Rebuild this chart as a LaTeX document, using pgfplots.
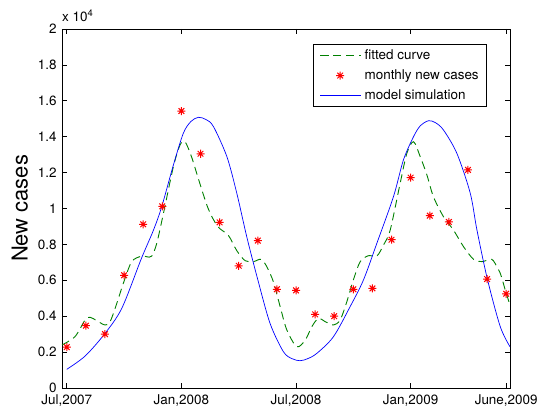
\documentclass[border=0pt]{standalone}
\usepackage{fontspec}
\setmainfont{TeX Gyre Heros}
\usepackage{pgfplots}
\pgfplotsset{compat=1.18}
\definecolor{mgreen}{rgb}{0,0.5,0}
\pgfdeclareplotmark{mstar}{%
  \pgfpathmoveto{\pgfqpoint{-\pgfplotmarksize}{0pt}}\pgfpathlineto{\pgfqpoint{\pgfplotmarksize}{0pt}}%
  \pgfpathmoveto{\pgfqpoint{0pt}{-\pgfplotmarksize}}\pgfpathlineto{\pgfqpoint{0pt}{\pgfplotmarksize}}%
  \pgfpathmoveto{\pgfqpoint{-0.707\pgfplotmarksize}{-0.707\pgfplotmarksize}}\pgfpathlineto{\pgfqpoint{0.707\pgfplotmarksize}{0.707\pgfplotmarksize}}%
  \pgfpathmoveto{\pgfqpoint{-0.707\pgfplotmarksize}{0.707\pgfplotmarksize}}\pgfpathlineto{\pgfqpoint{0.707\pgfplotmarksize}{-0.707\pgfplotmarksize}}%
  \pgfusepathqstroke}
\begin{document}
\begin{tikzpicture}
\begin{axis}[
  scale only axis,
  width=448bp, height=359bp,
  xmin=-0.25, xmax=23.2, ymin=0, ymax=2,
  xtick={0,6,12,18,23},
  xticklabels={{Jul,2007},{Jan,2008},{Jul,2008},{Jan,2009},{June,2009}},
  ytick={0,0.2,0.4,0.6,0.8,1,1.2,1.4,1.6,1.8,2},
  yticklabels={0,0.2,0.4,0.6,0.8,1,1.2,1.4,1.6,1.8,2},
  scaled y ticks=false,
  tick align=inside,
  xtick pos=both, ytick pos=both,
  major tick length=5bp,
  tick style={black, line width=0.6bp},
  axis line style={line width=0.8bp},
  tick label style={font=\fontsize{13.5}{16}\selectfont},
  xticklabel style={yshift=-3.5bp},
  yticklabel style={xshift=-2bp},
  ylabel={New cases},
  every axis y label/.style={at={(axis description cs:-0.094,0.5)}, rotate=90, anchor=center, font=\fontsize{22}{26}\selectfont},
  legend cell align=left,
  legend style={at={(axis description cs:1,1)}, anchor=north east, xshift=-23bp, yshift=-15.3bp,
    draw=black, line width=0.6bp, font=\fontsize{13.5}{16}\selectfont, inner xsep=6bp, inner ysep=3.5bp, row sep=4.5bp,
    /tikz/every odd column/.append style={column sep=2bp}},
  legend image code/.code={\draw[mark repeat=2,mark phase=2,#1] plot coordinates {(0bp,0bp) (20bp,0bp) (40bp,0bp)};},
]
\coordinate (SW) at (rel axis cs:0,0);
\coordinate (NW) at (rel axis cs:0,1);
\addplot[mgreen, line width=0.9bp, dash pattern=on 8bp off 5bp, smooth, tension=0.5] coordinates {
(-0.25,0.24) (0.43,0.286) (0.96,0.379) (1.22,0.394) (1.57,0.375) (2.0,0.351) (2.27,0.37) (2.62,0.472) (2.96,0.583) (3.4,0.704) (3.93,0.735) (4.19,0.731) (4.45,0.735) (4.71,0.806) (5.06,0.973) (5.58,1.233) (5.93,1.354) (6.19,1.372) (6.54,1.285) (6.89,1.165) (7.4,1.0) (7.9,0.9) (8.46,0.85) (8.9,0.765) (9.34,0.709) (9.77,0.704) (10.17,0.717) (10.47,0.676) (10.82,0.59) (11.17,0.453) (11.52,0.323) (12.04,0.23) (12.48,0.267) (12.83,0.342) (13.17,0.388) (13.52,0.37) (13.96,0.351) (14.31,0.379) (14.66,0.481) (15.0,0.602) (15.36,0.704) (15.79,0.737) (16.23,0.735) (16.58,0.797) (16.93,0.88) (17.45,1.14) (17.8,1.307) (18.15,1.372) (18.5,1.289) (18.85,1.187) (19.19,1.066) (19.72,0.954) (20.24,0.88) (20.77,0.787) (21.29,0.717) (21.73,0.704) (22.16,0.717) (22.33,0.709) (22.69,0.639) (22.95,0.546) (23.2,0.462)
};
\addlegendentry{fitted curve}
\addplot[only marks, red, mark=mstar, mark size=4bp, line width=1bp] coordinates {
(0,0.228) (1,0.347) (2,0.30) (3,0.628) (4,0.912) (5,1.012) (6,1.543) (7,1.305) (8,0.923) (9,0.681) (10,0.821) (11,0.55) (12,0.544) (13,0.41) (14,0.40) (15,0.55) (16,0.555) (17,0.826) (18,1.172) (19,0.96) (20,0.925) (21,1.215) (22,0.607) (23,0.525)
};
\addlegendentry{monthly new cases}
\addplot[blue, line width=0.7bp, smooth, tension=0.5] coordinates {
(0,0.104) (0.96,0.178) (1.97,0.30) (2.88,0.444) (3.9,0.72) (4.54,0.88) (4.97,1.01) (5.58,1.242) (6.1,1.419) (6.5,1.485) (6.89,1.508) (7.3,1.495) (7.68,1.456) (8.38,1.289) (8.9,1.085) (9.42,0.843) (9.98,0.611) (10.64,0.36) (11.34,0.202) (11.8,0.163) (12.21,0.152) (12.6,0.163) (13.09,0.193) (13.96,0.286) (14.83,0.453) (15.53,0.602) (16.23,0.806) (17.1,1.066) (17.62,1.27) (18.15,1.40) (18.5,1.46) (18.93,1.489) (19.3,1.478) (19.72,1.437) (20.42,1.307) (21.12,1.085) (21.47,0.88) (22.02,0.605) (22.69,0.342) (23.2,0.23)
};
\addlegendentry{model simulation}
\end{axis}
\node[anchor=base west, font=\fontsize{13.5}{16}\selectfont, inner sep=0pt] at ([yshift=7bp]NW) {x 10\textsuperscript{4}};
\pgfresetboundingbox
\path (SW) ++(-62bp,-22bp) rectangle ++(537bp,410bp);
\end{tikzpicture}
\end{document}
